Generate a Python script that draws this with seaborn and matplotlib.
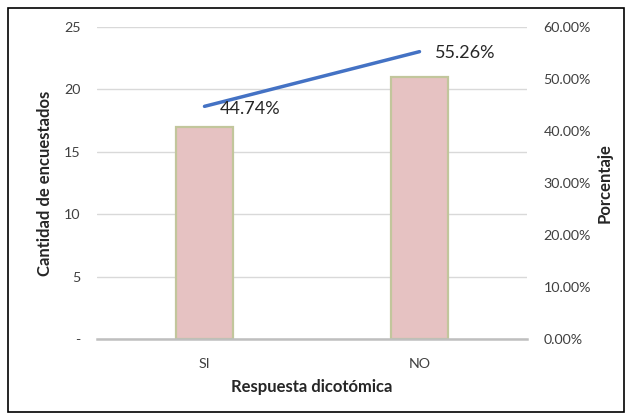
import matplotlib
matplotlib.use("Agg")
import matplotlib.pyplot as plt
import seaborn as sns
from matplotlib.patches import Rectangle
from matplotlib.ticker import FuncFormatter

# Datos
categorias = ["SI", "NO"]
cantidades = [17, 21]
porcentajes = [44.74, 55.26]

sns.set_theme(style="white")
plt.rcParams["font.family"] = ["Lato", "DejaVu Sans"]

fig = plt.figure(figsize=(6.26, 4.15), dpi=100)
ax = fig.add_axes([97 / 626, 76 / 415, 430 / 626, 312 / 415])

sns.barplot(
    x=categorias,
    y=cantidades,
    ax=ax,
    width=0.265,
    color="#e6c2c2",
    edgecolor="#c2c69c",
    linewidth=1.6,
    saturation=1,
)

ax.set_xlim(-0.5, 1.5)
ax.set_ylim(0, 25)
ax.set_yticks([0, 5, 10, 15, 20, 25])
ax.yaxis.set_major_formatter(FuncFormatter(lambda v, p: "-" if v == 0 else f"{v:.0f}"))
ax.grid(axis="y", color="#d9d9d9", linewidth=1)
ax.set_axisbelow(True)
for s in ["top", "right", "left"]:
    ax.spines[s].set_visible(False)
ax.spines["bottom"].set_color("#bfbfbf")
ax.spines["bottom"].set_linewidth(1.8)
ax.tick_params(axis="y", length=0, pad=12, labelsize=10.3, colors="#404040")
ax.tick_params(axis="x", length=0, pad=14, labelsize=10.3, colors="#404040")

ax.set_ylabel("Cantidad de encuestados", fontsize=12, fontweight="bold", labelpad=8)
ax.set_xlabel("Respuesta dicotómica", fontsize=12, fontweight="bold", labelpad=6)

ax2 = ax.twinx()
sns.lineplot(x=categorias, y=porcentajes, ax=ax2, sort=False, color="#4472c4", linewidth=2.5)
ax2.set_ylim(0, 60)
ax2.set_yticks([0, 10, 20, 30, 40, 50, 60])
ax2.yaxis.set_major_formatter(FuncFormatter(lambda v, p: f"{v:.2f}%"))
for s in ["top", "right", "left", "bottom"]:
    ax2.spines[s].set_visible(False)
ax2.tick_params(axis="y", length=0, pad=12, labelsize=10.3, colors="#404040")
ax2.set_ylabel("Porcentaje", fontsize=12, fontweight="bold", labelpad=4)

ax2.annotate(f"{porcentajes[0]:.2f}%", (0, porcentajes[0]), xytext=(11, -2),
             textcoords="offset points", ha="left", va="center", fontsize=13, color="#262626")
ax2.annotate(f"{porcentajes[1]:.2f}%", (1, porcentajes[1]), xytext=(11, -1),
             textcoords="offset points", ha="left", va="center", fontsize=13, color="#262626")

fig.patches.append(Rectangle((8 / 626, 3 / 415), 616 / 626, 404 / 415,
                             transform=fig.transFigure, fill=False,
                             edgecolor="black", linewidth=1.2))

fig.savefig("out.png", dpi=100)
